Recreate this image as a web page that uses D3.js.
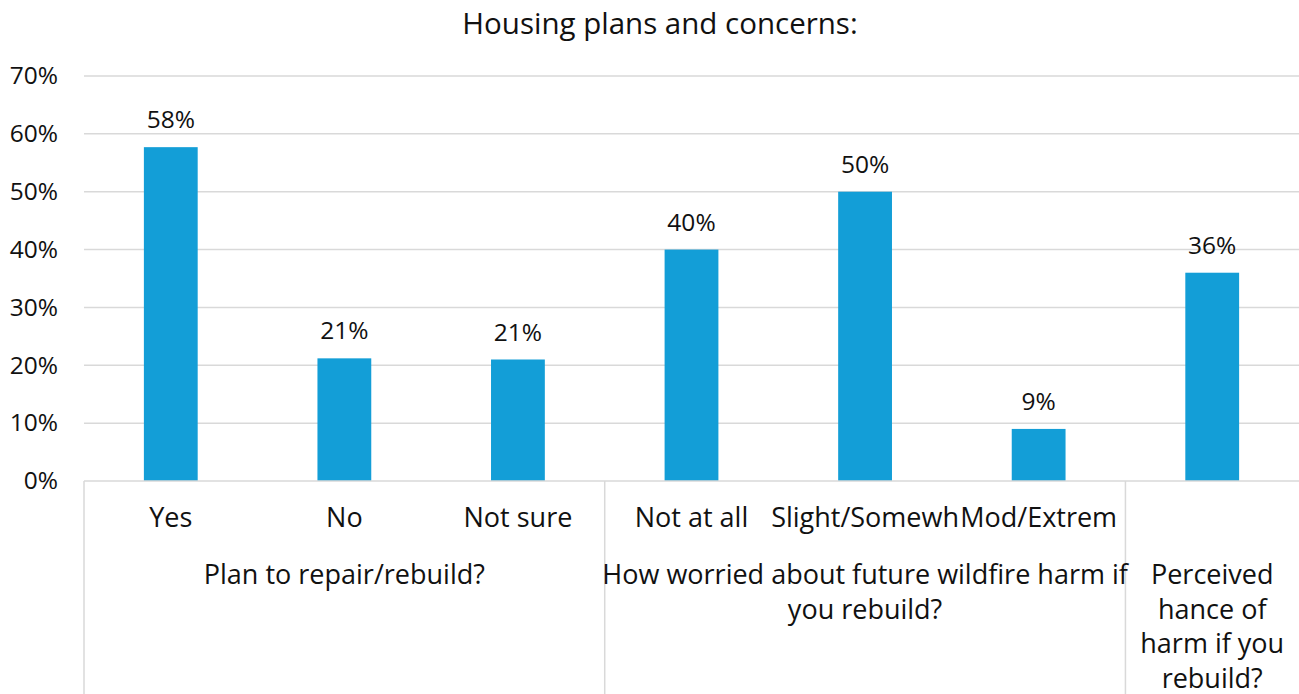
<!DOCTYPE html>
<html>
<head>
<meta charset="utf-8">
<script src="https://cdn.jsdelivr.net/npm/d3@7"></script>
<style>
  html, body { margin: 0; padding: 0; background: #fff; }
  svg { display: block; font-family: "Open Sans", "Liberation Sans", sans-serif; }
</style>
</head>
<body>
<svg id="chart" width="1299" height="694"></svg>
<script>
// Survey answers, one bar per answer
const categories = ["Yes", "No", "Not sure", "Not at all", "Slight/Somewh", "Mod/Extrem", ""];
const values = [0.577, 0.212, 0.210, 0.400, 0.500, 0.090, 0.360];
// Question each answer belongs to (index of first and last answer), label lines
const groupStarts = [0, 3, 6];
const groupEnds = [3, 6, 7];
const groupLabels = [
  ["Plan to repair/rebuild?"],
  ["How worried about future wildfire harm if", "you rebuild?"],
  ["Perceived", "hance of", "harm if you", "rebuild?"]
];
const yTicks = [0, 0.1, 0.2, 0.3, 0.4, 0.5, 0.6, 0.7];
const titleText = "Housing plans and concerns:";

const W = 1299, H = 694;
const plot = { left: 84, right: 1299, top: 76, bottom: 481 };
const svg = d3.select("#chart");

const x = d3.scaleBand()
  .domain(d3.range(categories.length))
  .range([plot.left, plot.right])
  .padding(0);
const y = d3.scaleLinear().domain([0, 0.7]).range([plot.bottom, plot.top]);
const pct = d3.format(".0%");
const barW = x.bandwidth() * 0.31;
const gridColor = "#d9d9d9";
const ink = "#111";

// Title
svg.append("text")
  .attr("x", 660).attr("y", 34)
  .attr("text-anchor", "middle")
  .attr("font-size", 29.5)
  .attr("fill", ink)
  .text(titleText);

// Horizontal gridlines
svg.append("g").selectAll("line")
  .data(yTicks.filter(d => d > 0))
  .join("line")
  .attr("x1", plot.left).attr("x2", plot.right)
  .attr("y1", d => y(d)).attr("y2", d => y(d))
  .attr("stroke", gridColor).attr("stroke-width", 1.5);

// Y axis labels
const yAxis = d3.axisLeft(y).tickValues(yTicks).tickFormat(pct).tickSize(0).tickPadding(26);
const gy = svg.append("g").attr("transform", `translate(${plot.left},0)`).call(yAxis);
gy.select(".domain").remove();
gy.selectAll("text")
  .attr("font-size", 24.5)
  .attr("font-family", "\"Open Sans\", sans-serif")
  .attr("fill", ink);

// Bars
svg.append("g").selectAll("rect")
  .data(values)
  .join("rect")
  .attr("x", (d, i) => x(i) + (x.bandwidth() - barW) / 2)
  .attr("width", barW)
  .attr("y", d => y(d))
  .attr("height", d => y(0) - y(d))
  .attr("fill", "#139ed7");

// Value labels
svg.append("g").selectAll("text")
  .data(values)
  .join("text")
  .attr("x", (d, i) => x(i) + x.bandwidth() / 2)
  .attr("y", d => y(d) - 19)
  .attr("text-anchor", "middle")
  .attr("font-size", 24.5)
  .attr("fill", ink)
  .text(d => pct(d));

// Category axis line and group dividers
svg.append("line")
  .attr("x1", plot.left).attr("x2", plot.right)
  .attr("y1", plot.bottom).attr("y2", plot.bottom)
  .attr("stroke", gridColor).attr("stroke-width", 1.5);
svg.append("g").selectAll("line")
  .data(groupStarts)
  .join("line")
  .attr("x1", d => x(d)).attr("x2", d => x(d))
  .attr("y1", plot.bottom).attr("y2", H)
  .attr("stroke", gridColor).attr("stroke-width", 1.5);

// Answer labels
svg.append("g").selectAll("text")
  .data(categories)
  .join("text")
  .attr("x", (d, i) => x(i) + x.bandwidth() / 2)
  .attr("y", 527)
  .attr("text-anchor", "middle")
  .attr("font-size", 27)
  .attr("fill", ink)
  .text(d => d);

// Question labels
const gl = svg.append("g").selectAll("text")
  .data(groupLabels)
  .join("text")
  .attr("x", (d, i) => (x(groupStarts[i]) + (groupEnds[i] < categories.length ? x(groupEnds[i]) : plot.right)) / 2)
  .attr("y", 584)
  .attr("text-anchor", "middle")
  .attr("font-size", 27)
  .attr("fill", ink);
gl.selectAll("tspan")
  .data(d => d)
  .join("tspan")
  .attr("x", function () { return d3.select(this.parentNode).attr("x"); })
  .attr("dy", (d, i) => i === 0 ? 0 : 34.5)
  .text(d => d);
</script>
</body>
</html>
